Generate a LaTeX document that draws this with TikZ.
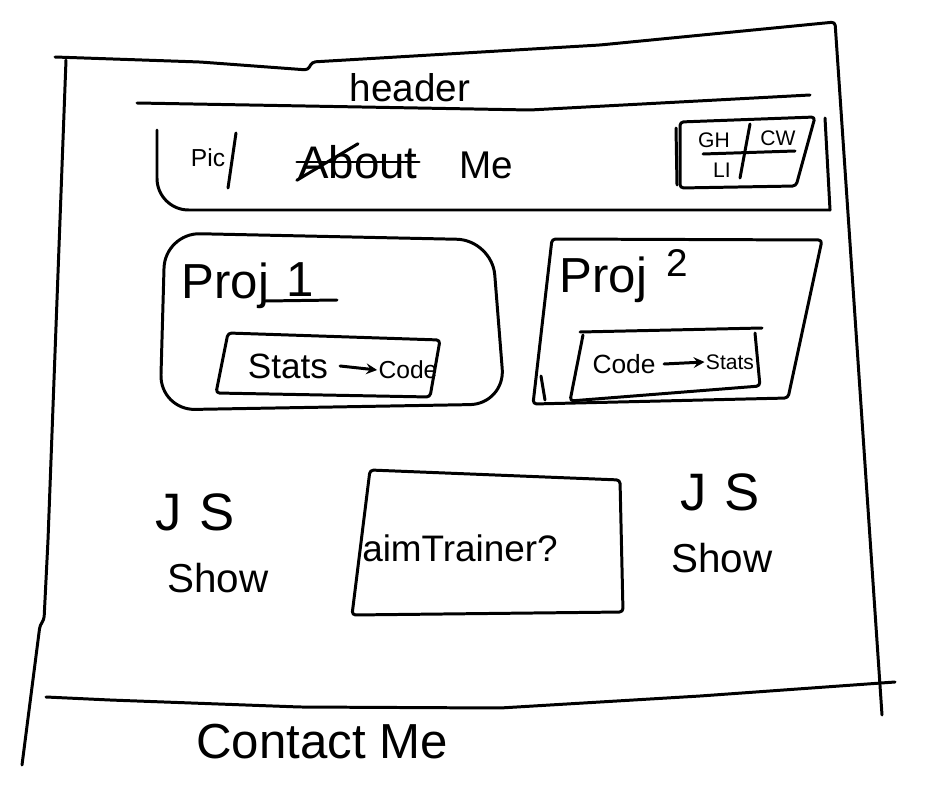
\documentclass[tikz,border=0pt]{standalone}
\usepackage{fontspec}
\setmainfont{Liberation Sans}
\usetikzlibrary{positioning}

\begin{document}
\begin{tikzpicture}[
        x=0.02cm, y=-0.02cm,
        line width=1.7pt, line join=round, line cap=round,
        sketch/.style={draw, line width=1.7pt, rounded corners=2pt},
        txt/.style={inner sep=0pt, font=\fontsize{#1}{#1}\selectfont},
        ]
        \useasboundingbox (0,0) rectangle (949,797);

        % page frame
        \draw[sketch] (55,57) -- (200,62) -- (308,70) -- (312,62) -- (600,45) -- (835,22) -- (882,715);
        \draw[sketch] (66,60) -- (48,540) -- (44,620) -- (40,625) -- (22,765);
        \draw[sketch] (46,697) -- (110,700) -- (300,707) -- (500,708) -- (700,696) -- (895,682);

        % header
        \node[txt=22] (head) at (410,88) {header};
        \draw[sketch] (137,103) -- (530,110) -- (810,95);

        % about bar
        \draw[sketch, rounded corners=18pt] (157,130) -- (157,210) -- (830,210);
        \node[txt=14] (pic) at (208,158) {Pic};
        \draw (236,133) -- (228,188);
        \node[txt=26] (about) at (358,162) {About};
        \draw (about.south west) -- (about.north);
        \draw (about.west) -- (about.east);
        \node[txt=22, right=22pt of about.base east, anchor=base west] (me) {Me};

        % socials
        \draw[sketch] (680,122) -- (815,117) -- (796,186) -- (680,188) -- cycle;
        \draw (676,128) -- (677,185);
        \draw (825,118) -- (830,210);
        \node[txt=12] (gh) at (714,140) {GH};
        \node[txt=12] (cw) at (778,138) {CW};
        \node[txt=12] (li) at (722,170) {LI};
        \draw (703,154) -- (795,151);
        \draw (740,178) -- (750,124);

        % project 1
        \draw[sketch, rounded corners=20pt] (165,233) -- (492,240) -- (505,404) -- (160,410) -- cycle;
        \node[txt=28, anchor=base west] (proj1) at (180,298) {Proj};
        \node[txt=28, anchor=base] (one) at (300,296) {1};
        \draw (265,301) -- (337,300);
        \draw[sketch] (228,333) -- (440,340) -- (430,397) -- (216,393) -- cycle;
        \node[txt=20] (stats1) at (288,366) {Stats};
        \node[txt=14] (code1) at (408,370) {Code};
        \draw[-stealth] (stats1.east) ++(6pt,0) -- (code1.west);

        % project 2
        \draw[sketch] (552,239) -- (822,240) -- (788,398) -- (533,404) -- cycle;
        \draw (541,376) -- (545,400);
        \node[txt=28, anchor=base west] (proj2) at (558,292) {Proj};
        \node[txt=22, anchor=base west] (two) at (665,276) {2};
        \draw (580,332) -- (762,328);
        \draw[sketch] (583,335) -- (570,401) -- (760,386) -- (755,333);
        \node[txt=15] (code2) at (624,364) {Code};
        \node[txt=12] (stats2) at (730,362) {Stats};
        \draw[-stealth] (code2.east) ++(4pt,0) -- (stats2.west);

        % middle row
        \node[txt=30] (jsl) at (195,512) {J\hspace{0.35em}S};
        \node[txt=23] (showl) at (218,578) {Show};
        \draw[sketch] (370,470) -- (620,480) -- (623,612) -- (352,615) -- cycle;
        \node[txt=21] (aim) at (460,548) {aimTrainer?};
        \node[txt=30] (jsr) at (720,492) {J\hspace{0.35em}S};
        \node[txt=23] (showr) at (722,558) {Show};

        % footer
        \node[txt=28] (contact) at (322,742) {Contact Me};
\end{tikzpicture}
\end{document}
